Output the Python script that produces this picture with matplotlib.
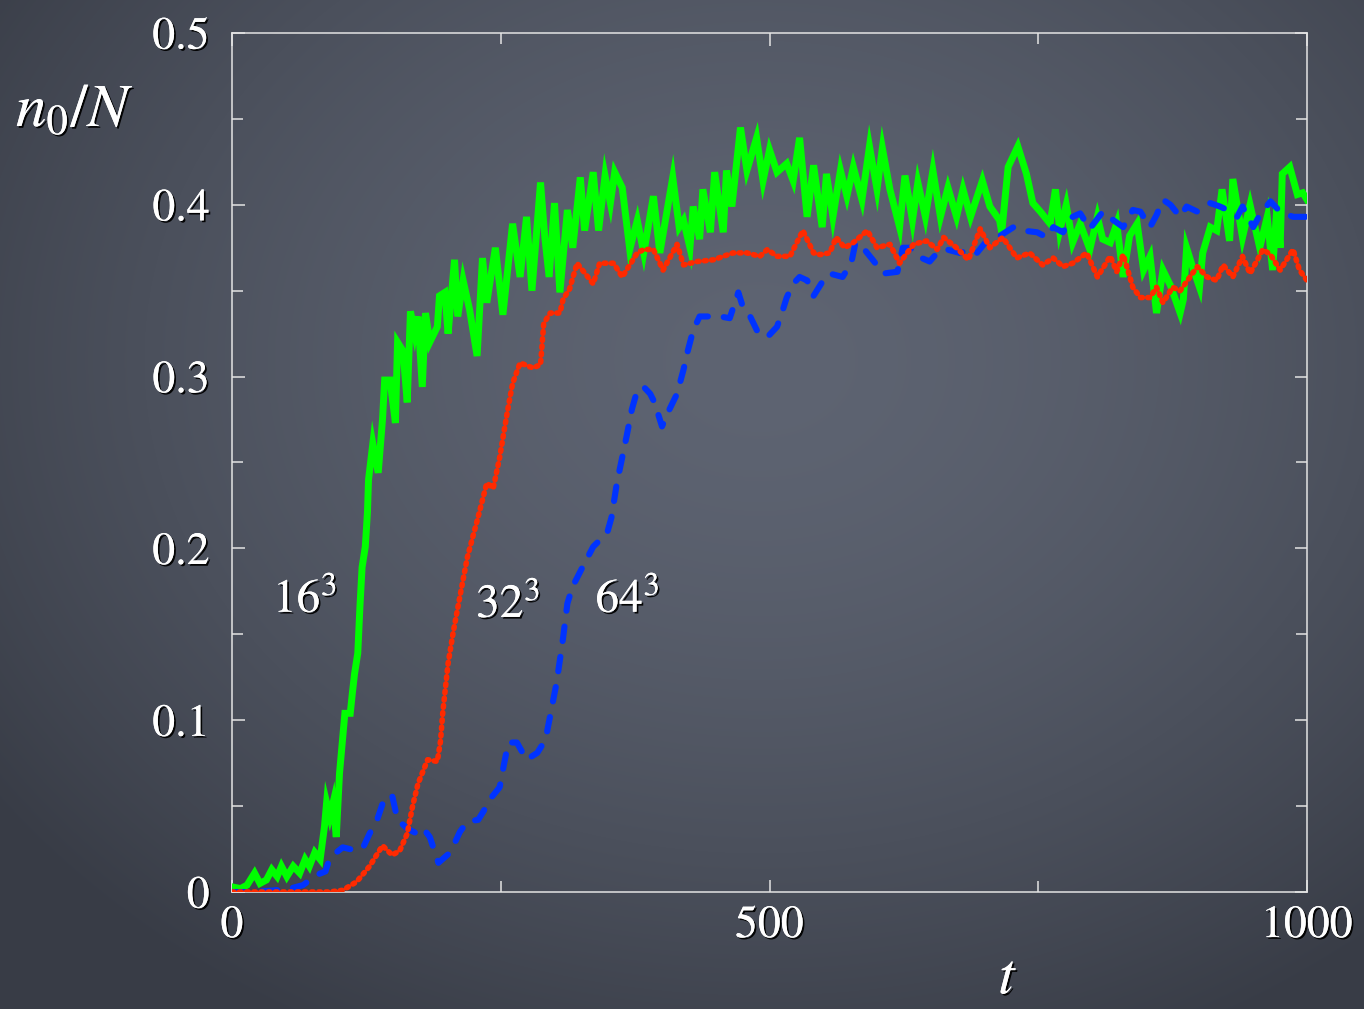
import numpy as np
import matplotlib
matplotlib.use("Agg")
import matplotlib.pyplot as plt
import matplotlib.patheffects as pe
from matplotlib.ticker import MultipleLocator, FixedLocator

# --- condensate fraction n0/N versus time for three lattice sizes ---
t_16 = [0, 8, 14, 21, 26, 32, 37, 42, 46, 51, 57, 63, 68, 72, 77, 82, 86, 88, 91, 94,
        97, 100, 103, 105, 110, 112, 114, 117, 119, 121, 124, 126, 127, 131, 136, 140,
        142, 147, 152, 154, 159, 163, 166, 170, 173, 177, 180, 184, 191, 193, 198, 201,
        207, 210, 215, 221, 228, 233, 237, 245, 252, 261, 268, 274, 279, 287, 291, 295,
        300, 305, 312, 317, 324, 328, 336, 341, 347, 352, 356, 363, 370, 377, 383, 392,
        398, 410, 416, 420, 426, 429, 435, 438, 445, 449, 457, 460, 465, 473, 479, 488,
        494, 500, 507, 516, 522, 528, 535, 541, 549, 553, 559, 566, 572, 578, 586, 593,
        600, 605, 612, 621, 626, 633, 638, 645, 652, 659, 666, 674, 680, 687, 698, 705,
        714, 716, 722, 731, 739, 745, 752, 761, 766, 770, 776, 782, 789, 798, 805, 810,
        817, 823, 829, 835, 842, 848, 854, 860, 866, 873, 882, 885, 888, 894, 900, 903,
        910, 916, 921, 928, 931, 940, 947, 956, 963, 968, 972, 975, 977, 984, 991, 996,
        1000]
n_16 = [0.003, 0.002, 0.004, 0.011, 0.005, 0.007, 0.013, 0.009, 0.015, 0.009, 0.015,
        0.011, 0.019, 0.015, 0.023, 0.019, 0.038, 0.052, 0.044, 0.052, 0.032, 0.069,
        0.090, 0.104, 0.104, 0.116, 0.127, 0.139, 0.166, 0.189, 0.201, 0.221, 0.240,
        0.261, 0.244, 0.275, 0.298, 0.298, 0.273, 0.320, 0.315, 0.285, 0.338, 0.325,
        0.335, 0.294, 0.337, 0.320, 0.329, 0.347, 0.349, 0.325, 0.368, 0.335, 0.356,
        0.339, 0.312, 0.369, 0.343, 0.375, 0.336, 0.389, 0.358, 0.393, 0.350, 0.413,
        0.381, 0.358, 0.401, 0.349, 0.397, 0.375, 0.416, 0.385, 0.419, 0.385, 0.417,
        0.401, 0.419, 0.410, 0.374, 0.391, 0.372, 0.405, 0.372, 0.416, 0.387, 0.391,
        0.375, 0.399, 0.380, 0.409, 0.384, 0.419, 0.384, 0.420, 0.399, 0.445, 0.420,
        0.439, 0.414, 0.432, 0.419, 0.424, 0.414, 0.439, 0.393, 0.423, 0.387, 0.418,
        0.393, 0.420, 0.405, 0.422, 0.403, 0.434, 0.409, 0.433, 0.409, 0.387, 0.417,
        0.391, 0.413, 0.393, 0.420, 0.393, 0.410, 0.393, 0.409, 0.393, 0.414, 0.399,
        0.391, 0.384, 0.422, 0.434, 0.418, 0.401, 0.396, 0.389, 0.409, 0.385, 0.400,
        0.378, 0.389, 0.374, 0.393, 0.380, 0.378, 0.389, 0.358, 0.382, 0.389, 0.362,
        0.370, 0.337, 0.362, 0.353, 0.337, 0.345, 0.375, 0.363, 0.352, 0.372, 0.387,
        0.385, 0.409, 0.379, 0.415, 0.381, 0.400, 0.375, 0.393, 0.362, 0.399, 0.375,
        0.418, 0.422, 0.406, 0.407, 0.403]

t_32 = [0, 30, 60, 90, 103, 116, 128, 140, 149, 156, 163, 168, 173, 182, 191, 194, 196,
        201, 206, 212, 219, 228, 237, 243, 249, 256, 261, 268, 280, 287, 290, 296, 305,
        308, 314, 321, 336, 342, 355, 363, 377, 383, 392, 401, 414, 420, 433, 448, 466,
        479, 491, 498, 507, 519, 531, 541, 547, 556, 562, 570, 578, 591, 600, 612, 621,
        634, 646, 656, 662, 674, 685, 696, 705, 717, 730, 742, 754, 764, 773, 782, 795,
        805, 817, 823, 829, 838, 845, 854, 860, 866, 875, 882, 898, 907, 916, 922, 931,
        940, 947, 959, 966, 975, 987, 993, 1000]
n_32 = [0.0, 0.0, 0.0, 0.0, 0.001, 0.006, 0.015, 0.027, 0.0215, 0.024, 0.034, 0.050,
        0.063, 0.077, 0.076, 0.088, 0.104, 0.133, 0.152, 0.172, 0.195, 0.216, 0.238,
        0.235, 0.253, 0.279, 0.296, 0.308, 0.305, 0.307, 0.331, 0.337, 0.337, 0.345,
        0.351, 0.366, 0.354, 0.366, 0.366, 0.358, 0.372, 0.374, 0.374, 0.362, 0.377,
        0.365, 0.367, 0.368, 0.372, 0.372, 0.370, 0.374, 0.370, 0.370, 0.385, 0.372,
        0.371, 0.372, 0.381, 0.375, 0.378, 0.385, 0.375, 0.377, 0.366, 0.377, 0.379,
        0.374, 0.381, 0.375, 0.368, 0.386, 0.375, 0.381, 0.369, 0.372, 0.365, 0.369,
        0.364, 0.366, 0.372, 0.358, 0.370, 0.361, 0.371, 0.352, 0.346, 0.346, 0.352,
        0.343, 0.352, 0.350, 0.364, 0.358, 0.356, 0.365, 0.358, 0.370, 0.360, 0.374,
        0.371, 0.362, 0.374, 0.362, 0.356]

t_64 = [0, 20, 40, 54, 66, 79, 87, 91, 103, 116, 122, 128, 135, 142, 149, 154, 163, 172,
        178, 184, 192, 203, 212, 219, 229, 234, 240, 249, 252, 257, 265, 274, 284, 291,
        293, 302, 308, 312, 317, 326, 336, 349, 353, 358, 363, 367, 372, 377, 383, 389,
        393, 400, 407, 414, 420, 424, 429, 435, 443, 454, 463, 471, 475, 482, 489, 498,
        507, 512, 516, 522, 528, 535, 541, 549, 556, 568, 576, 580, 587, 596, 606, 619,
        624, 631, 638, 649, 656, 665, 677, 687, 693, 702, 712, 727, 736, 749, 758, 764,
        773, 782, 789, 798, 810, 820, 829, 838, 845, 854, 860, 866, 873, 882, 888, 898,
        910, 919, 926, 935, 940, 950, 956, 966, 975, 987, 996, 1000]
n_64 = [0.0, 0.0, 0.001, 0.002, 0.004, 0.010, 0.012, 0.020, 0.026, 0.024, 0.026, 0.034,
        0.042, 0.055, 0.056, 0.042, 0.037, 0.034, 0.037, 0.032, 0.017, 0.023, 0.035,
        0.041, 0.042, 0.047, 0.054, 0.061, 0.071, 0.087, 0.087, 0.077, 0.081, 0.088,
        0.093, 0.122, 0.148, 0.168, 0.178, 0.189, 0.201, 0.209, 0.218, 0.238, 0.253,
        0.265, 0.281, 0.292, 0.294, 0.290, 0.285, 0.271, 0.281, 0.290, 0.304, 0.315,
        0.327, 0.335, 0.335, 0.335, 0.334, 0.349, 0.341, 0.335, 0.326, 0.323, 0.329,
        0.338, 0.346, 0.354, 0.358, 0.356, 0.347, 0.355, 0.360, 0.358, 0.366, 0.378,
        0.375, 0.368, 0.360, 0.361, 0.375, 0.375, 0.370, 0.367, 0.372, 0.374, 0.372,
        0.374, 0.372, 0.379, 0.381, 0.387, 0.385, 0.384, 0.381, 0.387, 0.384, 0.393,
        0.395, 0.386, 0.396, 0.391, 0.387, 0.397, 0.396, 0.387, 0.394, 0.403, 0.400,
        0.393, 0.399, 0.396, 0.401, 0.399, 0.397, 0.393, 0.399, 0.387, 0.394, 0.402,
        0.396, 0.393, 0.393, 0.393]

size_labels = ["$16^3$", "$32^3$", "$64^3$"]
size_label_pos = [(68, 0.170), (257, 0.167), (368, 0.170)]
x_ticks = [0, 500, 1000]
y_ticks = [0, 0.1, 0.2, 0.3, 0.4, 0.5]
y_tick_labels = ["0", "0.1", "0.2", "0.3", "0.4", "0.5"]

plt.rcParams["font.family"] = ["STIXGeneral", "DejaVu Serif"]
plt.rcParams["mathtext.fontset"] = "stix"

W, H = 1364, 1009
fig = plt.figure(figsize=(W / 100, H / 100), dpi=100)

# chalkboard backdrop: soft slate gradient, a little lighter toward the middle
bg = fig.add_axes([0, 0, 1, 1], zorder=-10)
bg.set_axis_off()
yy, xx = np.mgrid[0:H, 0:W]
r = np.sqrt(((xx - 760) / 950.0) ** 2 + ((yy - 360) / 760.0) ** 2)
light = np.array([94, 100, 114]) / 255.0
dark = np.array([56, 60, 70]) / 255.0
w = np.clip(r, 0, 1) ** 1.6
img = light[None, None, :] * (1 - w[..., None]) + dark[None, None, :] * w[..., None]
bg.imshow(img, extent=[0, 1, 0, 1], aspect="auto", origin="upper")
bg.set_xlim(0, 1)
bg.set_ylim(0, 1)

chalk = [pe.withSimplePatchShadow(offset=(1.3, -1.3), shadow_rgbFace="black", alpha=0.95),
         pe.Normal()]

ax = fig.add_axes([232 / W, 117 / H, (1307 - 232) / W, (892 - 33) / H])
ax.patch.set_alpha(0)

ax.plot(t_16, n_16, color="#00ff00", lw=5.0, solid_joinstyle="miter", zorder=3)
ax.plot(t_64, n_64, color="#0033ff", lw=4.4, dashes=(2.4, 2.6),
        dash_capstyle="round", zorder=4)
ax.plot(t_32, n_32, color="#ff2a00", lw=4.0, dashes=(0.35, 0.95),
        dash_capstyle="round", zorder=5)

ax.set_xlim(0, 1000)
ax.set_ylim(0, 0.5)

for s in ax.spines.values():
    s.set_color("#e4e4e4")
    s.set_linewidth(1.1)

ax.xaxis.set_major_locator(FixedLocator(x_ticks))
ax.xaxis.set_minor_locator(MultipleLocator(250))
ax.yaxis.set_major_locator(FixedLocator(y_ticks))
ax.yaxis.set_minor_locator(MultipleLocator(0.05))
ax.tick_params(which="both", direction="in", top=True, right=True,
               color="#e4e4e4", width=1.1)
ax.tick_params(which="major", length=9)
ax.tick_params(which="minor", length=8)
ax.tick_params(axis="y", which="major", pad=16, labelsize=33, labelcolor="white")
ax.tick_params(axis="x", which="major", pad=10, labelsize=33, labelcolor="white")
ax.set_xticklabels([str(v) for v in x_ticks])
ax.set_yticklabels(y_tick_labels)
for lab in ax.get_xticklabels() + ax.get_yticklabels():
    lab.set_path_effects(chalk)

for txt, (tx, ty) in zip(size_labels, size_label_pos):
    ax.text(tx, ty, txt, fontsize=34, color="white", ha="center", va="center",
            path_effects=chalk, zorder=6)

fig.text(75 / W, 1 - 112 / H, r"$n_0/N$", fontsize=44, color="white",
         ha="center", va="center", path_effects=chalk)
fig.text(1008 / W, 1 - 980 / H, r"$t$", fontsize=42, color="white",
         ha="center", va="center", path_effects=chalk)

fig.savefig("out.png", dpi=100)
